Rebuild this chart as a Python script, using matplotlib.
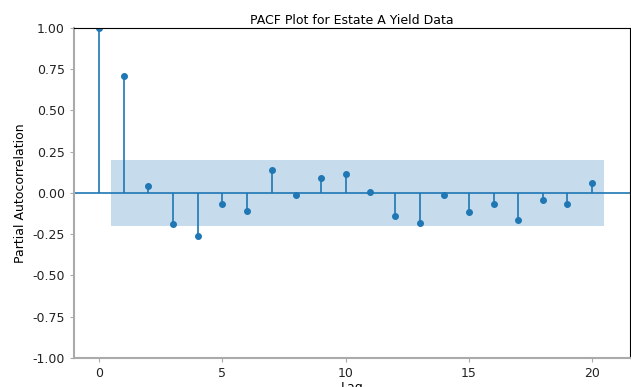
import numpy as np
import matplotlib
matplotlib.use("Agg")
import matplotlib.pyplot as plt

# PACF values, lags 0..20
lags = np.arange(21)
pacf_vals = [1.0, 0.707, 0.04, -0.19, -0.26, -0.067, -0.11, 0.14, -0.011, 0.088,
             0.114, 0.006, -0.138, -0.184, -0.011, -0.116, -0.07, -0.167, -0.04,
             -0.067, 0.061]
conf_half = 0.2
y_ticks = [-1.0, -0.75, -0.5, -0.25, 0.0, 0.25, 0.5, 0.75, 1.0]
x_ticks = [0, 5, 10, 15, 20]

plt.rcParams['font.size'] = 9

fig = plt.figure(figsize=(6.31, 3.87), dpi=100)
ax = fig.add_axes([0.117, 0.075, 0.881, 0.853])

vals = np.array(pacf_vals)
ax.vlines(lags, 0, vals, color='C0', lw=1.2)
ax.axhline(0, color='C0', lw=1.2)
ax.plot(lags, vals, 'o', color='C0', markersize=4)

# confidence band, widened by half a lag at each end like statsmodels
band_x = lags[1:].astype(float)
band_x[0] -= 0.5
band_x[-1] += 0.5
ax.fill_between(band_x, -conf_half, conf_half, color='C0', alpha=0.25, lw=0)

ax.set_xlim(-1.025, 21.525)
ax.set_ylim(-1, 1)
ax.set_yticks(y_ticks)
ax.set_yticklabels(['%.2f' % v for v in y_ticks])
ax.set_xticks(x_ticks)
ax.set_title('PACF Plot for Estate A Yield Data', fontsize=9, pad=3)
ax.set_xlabel('Lag', labelpad=1)
ax.set_ylabel('Partial Autocorrelation')

for side in ['left', 'bottom']:
    ax.spines[side].set_color('#aaaaaa')
    ax.spines[side].set_linewidth(1.5)
ax.tick_params(colors='#aaaaaa', labelcolor='#222222', length=3)

fig.savefig('out.png', dpi=100)
